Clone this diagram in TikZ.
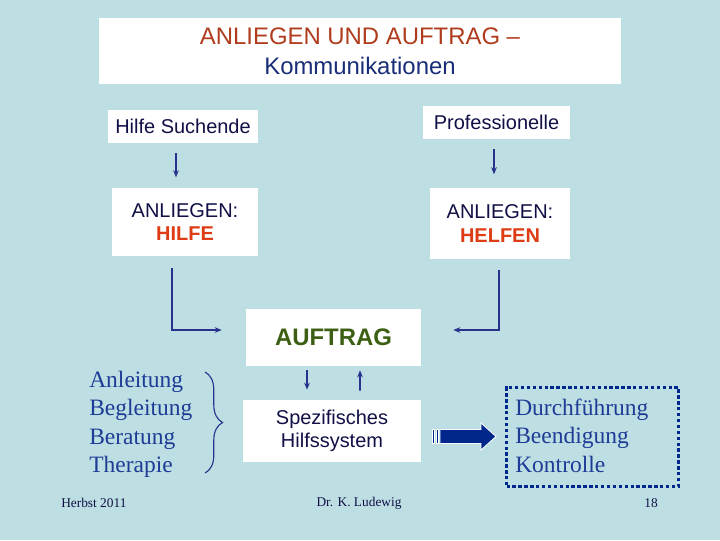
\documentclass[tikz,border=0pt]{standalone}
\usepackage{fontspec}
\setmainfont{Liberation Serif}
\setsansfont{Liberation Sans}
\usetikzlibrary{arrows.meta,positioning,calc,decorations.pathreplacing}

\definecolor{bgblue}{RGB}{189,223,227}
\definecolor{titlered}{RGB}{176,60,30}
\definecolor{titlenavy}{RGB}{25,45,120}
\definecolor{boxtext}{RGB}{16,16,70}
\definecolor{hotred}{RGB}{222,60,20}
\definecolor{darkgreen}{RGB}{60,95,20}
\definecolor{listblue}{RGB}{30,60,150}
\definecolor{arrowblue}{RGB}{40,50,140}
\definecolor{blockblue}{RGB}{0,40,140}

\begin{document}
\begin{tikzpicture}[
  x=0.025cm, y=-0.025cm,
  >={Stealth[length=5pt,width=4pt]},
  every node/.style={inner sep=0pt},
  box/.style={fill=white, text=boxtext, align=center,
              font=\sffamily\fontsize{14.2}{17}\selectfont},
  lst/.style={text=listblue, align=left,
              font=\rmfamily\fontsize{16.7}{20.3}\selectfont},
  conn/.style={->, arrowblue, line width=1.2pt},
  foot/.style={text=boxtext, font=\rmfamily\fontsize{9.5}{11}\selectfont},
]
\fill[bgblue] (0,0) rectangle (720,540);

% Title
\node[box, minimum width=522*0.025cm, minimum height=66*0.025cm,
  font=\sffamily\fontsize{17}{21.3}\selectfont] (title) at (360,51)
  {\textcolor{titlered}{ANLIEGEN UND AUFTRAG –}\\\textcolor{titlenavy}{Kommunikationen}};

% Starting points
\node[box, minimum width=150*0.025cm, minimum height=33*0.025cm] (seek) at (183,126.5) {Hilfe Suchende};
\node[box, minimum width=147*0.025cm, minimum height=33*0.025cm] (prof) at (496.5,122.5) {Professionelle};

% Anliegen
\node[box, minimum width=146*0.025cm, minimum height=68*0.025cm] (help) at (185,222)
  {ANLIEGEN:\\\textcolor{hotred}{\bfseries HILFE}};
\node[box, minimum width=140*0.025cm, minimum height=71*0.025cm] (helpen) at (500,223.5)
  {ANLIEGEN:\\\textcolor{hotred}{\bfseries HELFEN}};

\draw[conn] ($(seek.south)+(-7,10)$) -- ++(0,24);
\draw[conn] ($(prof.south)+(-2.5,10)$) -- ++(0,25);

% Auftrag
\node[box, minimum width=175*0.025cm, minimum height=57*0.025cm,
  text=darkgreen, font=\sffamily\bfseries\fontsize{17}{20}\selectfont] (auftrag) at (333.5,337.5) {AUFTRAG};

\draw[conn] ($(help.south)+(-13,12)$) |- ($(auftrag.west)+(-24,-7.5)$);
\draw[conn] ($(helpen.south)+(-1,11)$) |- ($(auftrag.east)+(32,-7.5)$);

% Hilfssystem
\node[box, minimum width=178*0.025cm, minimum height=62*0.025cm,
  font=\sffamily\fontsize{14.2}{16.4}\selectfont] (system) at (332,431)
  {Spezifisches\\Hilfssystem};

\draw[conn] ($(auftrag.south)+(-26.5,4)$) -- ($(system.north)+(-25,-10)$);
\draw[conn] ($(system.north)+(28,-9)$) -- ($(auftrag.south)+(26.5,4)$);

% Forms of help
\node[lst, anchor=base west] (forms) at (89,387) {Anleitung};
\node[lst, anchor=base west] (forms2) at (89,415.5) {Begleitung};
\node[lst, anchor=base west] (forms3) at (89,444) {Beratung};
\node[lst, anchor=base west] (forms4) at (89,472.5) {Therapie};
\draw[decorate, decoration={brace, amplitude=12.5pt}, arrowblue, line width=0.8pt]
  (205,372) -- (205,473);

% Block arrow
\fill[blockblue, draw=white, line width=0.6pt]
  (440,429.5) -- (481,429.5) -- (481,423) -- (496,436.5) -- (481,450)
  -- (481,443.5) -- (440,443.5) -- cycle;
\fill[blockblue, draw=white, line width=0.6pt] (432,429.5) rectangle (434.5,443.5);
\fill[blockblue, draw=white, line width=0.6pt] (436,429.5) rectangle (438.5,443.5);

% Follow-up
\node[draw=blockblue, line width=2.4pt, dash pattern=on 2.4pt off 1.8pt,
  minimum width=172*0.025cm, minimum height=99*0.025cm] (steps) at (592.5,437) {};
\node[lst, anchor=base west] (step1) at (515,415) {Durchführung};
\node[lst, anchor=base west] (step2) at (515,443.5) {Beendigung};
\node[lst, anchor=base west] (step3) at (515,472) {Kontrolle};

% Footer
\node[foot, anchor=west] (season) at (61,503) {Herbst 2011};
\node[foot] (author) at (359,503) {Dr. K. Ludewig};
\node[foot] (page) at (651,503) {18};
\end{tikzpicture}
\end{document}
